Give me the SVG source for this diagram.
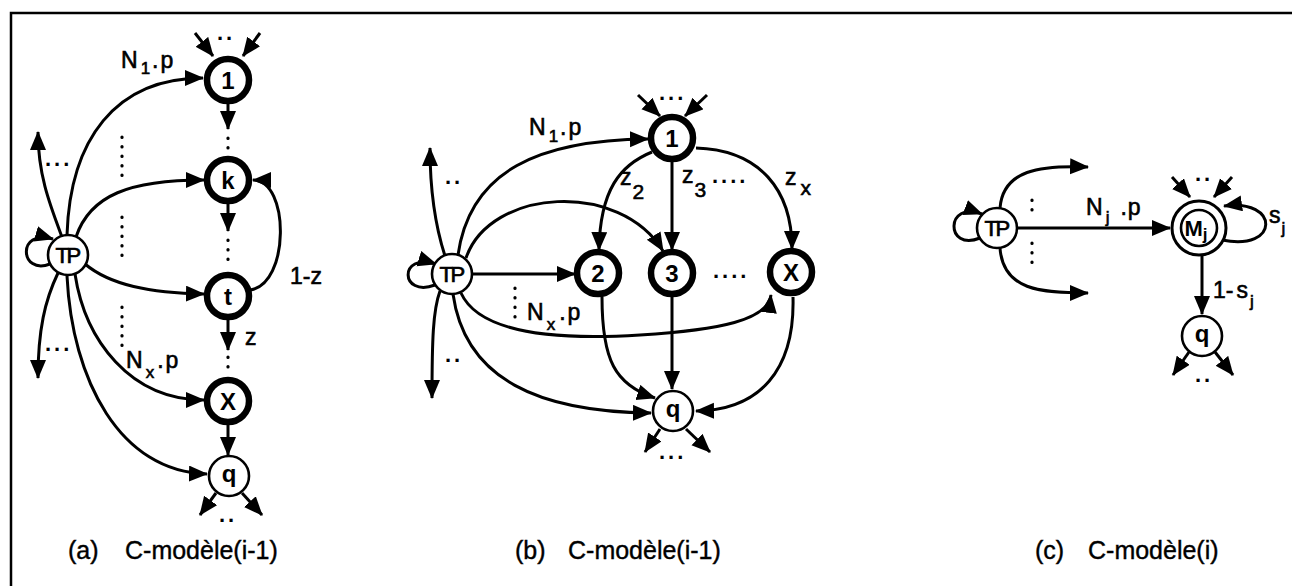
<svg xmlns="http://www.w3.org/2000/svg" width="1292" height="586" viewBox="0 0 1292 586">
<style>
.bg{fill:#fff}
.frame{stroke:#000;stroke-width:2.5;fill:none}
.e{stroke:#000;stroke-width:3;fill:none}
.a{marker-end:url(#ah)}
.dl{stroke:#000;stroke-width:3.2;stroke-dasharray:0.5 9;stroke-linecap:round;fill:none}
.thick{fill:#fff;stroke:#000;stroke-width:6.5}
.thin{fill:#fff;stroke:#000;stroke-width:2.6}
.nl{font-family:"Liberation Sans",Arial,sans-serif;font-weight:bold;font-size:24px;text-anchor:middle}
.tp{font-family:"Liberation Sans",Arial,sans-serif;font-size:22px;text-anchor:middle;letter-spacing:-2.5px;stroke:#000;stroke-width:0.7}
.lb{font-family:"Liberation Sans",Arial,sans-serif;font-size:23px;stroke:#000;stroke-width:0.6}
.sb{font-size:17px}
.dots{font-family:"Liberation Sans",Arial,sans-serif;font-size:22px;font-weight:bold;letter-spacing:3px}
.cap{font-family:"Liberation Sans",Arial,sans-serif;font-size:25px;stroke:#000;stroke-width:0.4}
</style>
<defs>
<marker id="ah" markerUnits="userSpaceOnUse" markerWidth="21" markerHeight="17" refX="18" refY="8" orient="auto">
<path d="M0,0 L19,8 L0,16 z" fill="#000"/>
</marker>
</defs>
<rect class="bg" x="0" y="0" width="1292" height="586"/>
<path class="frame" d="M11,586 L11,13 L1292,13"/>

<g id="connectors">
<!-- panel a -->
<path class="e a" d="M50,264 C20,276 16,228 53,239"/>
<path class="e a" d="M62,237 C50,205 38,175 38,132"/>
<path class="e a" d="M67,235 C70,140 115,78 203,78"/>
<path class="e a" d="M76,237 C90,195 130,180 204,180"/>
<path class="e a" d="M85,264 C110,285 150,293 204,294"/>
<path class="e a" d="M58,273 C45,300 38,330 38,378"/>
<path class="e a" d="M75,274 C85,340 130,400 204,400"/>
<path class="e a" d="M67,276 C72,380 120,472 207,474"/>
<path class="e a" d="M195,33 L213,56"/>
<path class="e a" d="M260,33 L243,56"/>
<path class="e a" d="M228,104 L228,129"/>
<path class="dl" d="M228,138 L228,156"/>
<path class="e a" d="M228,204 L228,231"/>
<path class="dl" d="M228,240 L228,262"/>
<path class="e a" d="M228,320 L228,350"/>
<path class="dl" d="M228,357 L228,374"/>
<path class="e a" d="M228,425 L228,455"/>
<path class="e a" d="M216,493 L200,515"/>
<path class="e a" d="M242,493 L262,515"/>
<path class="e a" d="M250,290 C290,285 290,180 253,180"/>
<path class="dl" d="M122,137 L122,180"/>
<path class="dl" d="M122,217 L122,260"/>
<path class="dl" d="M122,307 L122,352"/>

<!-- panel b -->
<path class="e a" d="M435,285 C400,298 398,252 436,264"/>
<path class="e a" d="M445,256 C435,225 430,190 430,148"/>
<path class="e a" d="M458,255 C470,170 540,140 648,139"/>
<path class="e a" d="M466,258 C490,188 620,180 663,251"/>
<path class="e a" d="M472,274 L575,274"/>
<path class="e a" d="M652,152 C620,165 600,190 599,250"/>
<path class="e a" d="M672,162 L672,250"/>
<path class="e a" d="M696,148 C760,150 792,190 792,249"/>
<path class="e a" d="M461,293 C480,335 560,340 640,335 C720,330 768,320 771,295"/>
<path class="e a" d="M453,294 C465,380 540,412 651,413"/>
<path class="e a" d="M440,291 C433,310 432,340 432,398"/>
<path class="dl" d="M515,288 L515,318"/>
<path class="e a" d="M602,297 C602,360 615,385 655,398"/>
<path class="e a" d="M672,297 L672,389"/>
<path class="e a" d="M793,297 C795,370 760,410 696,411"/>
<path class="e a" d="M660,429 L645,452"/>
<path class="e a" d="M686,429 L710,452"/>
<path class="e a" d="M638,95 L660,116"/>
<path class="e a" d="M707,95 L685,116"/>

<!-- panel c -->
<path class="e a" d="M980,238 C945,252 945,200 982,214"/>
<path class="e a" d="M1000,208 C1003,170 1040,165 1088,167"/>
<path class="e a" d="M1000,248 C1003,290 1040,293 1088,293"/>
<path class="dl" d="M1032,200 L1032,215"/>
<path class="dl" d="M1032,243 L1032,265"/>
<path class="e a" d="M1017,228 L1170,228"/>
<path class="e a" d="M1172,177 L1190,197"/>
<path class="e a" d="M1232,177 L1214,197"/>
<path class="e a" d="M1222,240 C1280,252 1280,198 1224,206"/>
<path class="e a" d="M1202,256 L1202,314"/>
<path class="e a" d="M1189,352 L1173,375"/>
<path class="e a" d="M1215,352 L1233,375"/>
</g>

<!-- panel a nodes -->
<g id="a-TP"><circle class="thin" cx="68" cy="255" r="20"/><text class="tp" x="67" y="263">TP</text></g>
<g id="a-1"><circle class="thick" cx="228" cy="80" r="21"/><text class="nl" x="228" y="89">1</text></g>
<g id="a-k"><circle class="thick" cx="228" cy="180" r="21"/><text class="nl" x="228" y="189">k</text></g>
<g id="a-t"><circle class="thick" cx="228" cy="296" r="21"/><text class="nl" x="228" y="305">t</text></g>
<g id="a-X"><circle class="thick" cx="228" cy="401" r="21"/><text class="nl" x="228" y="410">X</text></g>
<g id="a-q"><circle class="thin" cx="229" cy="476" r="20"/><text class="nl" x="229" y="482">q</text></g>

<!-- panel b nodes -->
<g id="b-TP"><circle class="thin" cx="452" cy="274" r="20"/><text class="tp" x="451" y="282">TP</text></g>
<g id="b-1"><circle class="thick" cx="672" cy="138" r="21"/><text class="nl" x="672" y="147">1</text></g>
<g id="b-2"><circle class="thick" cx="598" cy="273" r="21"/><text class="nl" x="598" y="282">2</text></g>
<g id="b-3"><circle class="thick" cx="672" cy="273" r="21"/><text class="nl" x="672" y="282">3</text></g>
<g id="b-X"><circle class="thick" cx="791" cy="272" r="21"/><text class="nl" x="791" y="281">X</text></g>
<g id="b-q"><circle class="thin" cx="673" cy="411" r="20"/><text class="nl" x="673" y="417">q</text></g>

<!-- panel c nodes -->
<g id="c-TP"><circle class="thin" cx="997" cy="228" r="20"/><text class="tp" x="996" y="236">TP</text></g>
<g id="c-Mj"><circle class="thin" cx="1199" cy="228" r="27" style="stroke-width:3"/><circle class="thin" cx="1199" cy="228" r="18" style="stroke-width:2.6"/><text class="nl" x="1196" y="236" style="font-size:22px">M<tspan class="sb" dy="4">j</tspan></text></g>
<g id="c-q"><circle class="thin" cx="1202" cy="336" r="20"/><text class="nl" x="1202" y="342">q</text></g>

<!-- labels -->
<g id="labels">
<text class="lb" x="121" y="68">N<tspan class="sb" dx="3" dy="6">1</tspan><tspan dx="2" dy="-6">.</tspan><tspan dx="2">p</tspan></text>
<text class="lb" x="290" y="284">1-z</text>
<text class="lb" x="245" y="345">z</text>
<text class="lb" x="126" y="368">N<tspan class="sb" dx="3" dy="10">x</tspan><tspan dx="3" dy="-10">.</tspan><tspan dx="2">p</tspan></text>
<text class="dots" x="45" y="166">...</text>
<text class="dots" x="45" y="351">...</text>
<text class="dots" x="217" y="40">..</text>
<text class="dots" x="219" y="522">..</text>

<text class="lb" x="529" y="135">N<tspan class="sb" dx="3" dy="7">1</tspan><tspan dx="2" dy="-7">.</tspan><tspan dx="2">p</tspan></text>
<text class="lb" x="620" y="185">z<tspan style="font-size:21px" dx="1" dy="14">2</tspan></text>
<text class="lb" x="682" y="183">z<tspan style="font-size:21px" dx="1" dy="14">3</tspan></text>
<text class="lb" x="785" y="185">z<tspan style="font-size:21px" dx="4" dy="10">x</tspan></text>
<text class="dots" x="712" y="183">....</text>
<text class="dots" x="713" y="278">....</text>
<text class="lb" x="527" y="320">N<tspan class="sb" dx="3" dy="10">x</tspan><tspan dx="4" dy="-10">.</tspan><tspan dx="2">p</tspan></text>
<text class="dots" x="445" y="184">..</text>
<text class="dots" x="445" y="362">..</text>
<text class="dots" x="659" y="100">...</text>
<text class="dots" x="659" y="459">...</text>

<text class="lb" x="1086" y="215">N<tspan class="sb" dx="3" dy="8">j</tspan><tspan dx="11" dy="-8">.</tspan><tspan dx="1">p</tspan></text>
<text class="lb" x="1269" y="223">s<tspan class="sb" dx="1" dy="11">j</tspan></text>
<text class="lb" x="1213" y="298">1-<tspan dx="3">s</tspan><tspan class="sb" dx="2" dy="9">j</tspan></text>
<text class="dots" x="1195" y="181">..</text>
<text class="dots" x="1195" y="382">..</text>
</g>

<g id="captions">
<text class="cap" x="68" y="559">(a)</text><text class="cap" x="125" y="559">C-modèle(i-1)</text>
<text class="cap" x="515" y="559">(b)</text><text class="cap" x="568" y="559">C-modèle(i-1)</text>
<text class="cap" x="1035" y="559">(c)</text><text class="cap" x="1088" y="559">C-modèle(i)</text>
</g>
</svg>
